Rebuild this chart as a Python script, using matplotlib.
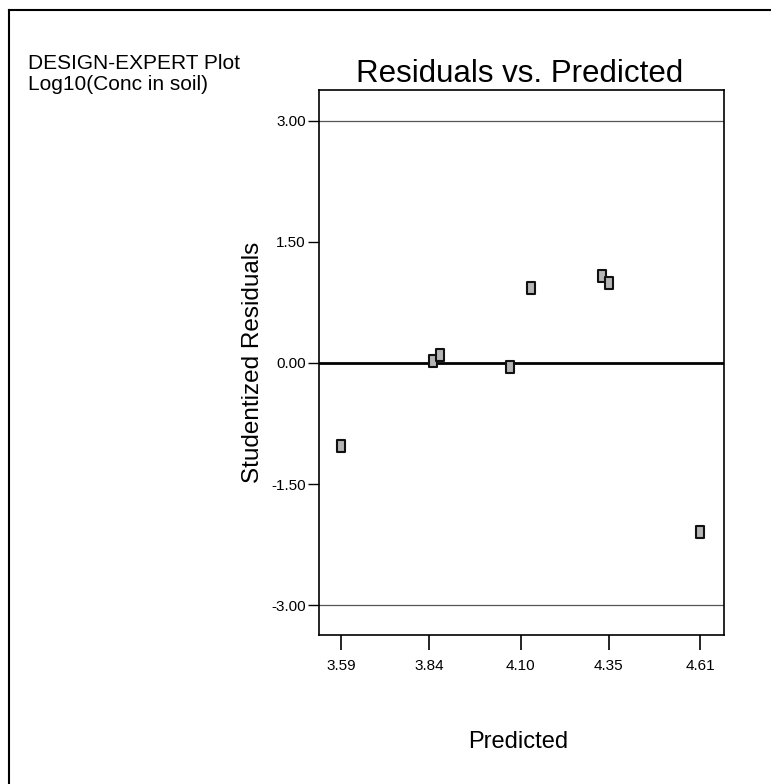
import matplotlib
matplotlib.use("Agg")
import matplotlib.pyplot as plt
from matplotlib.path import Path
from matplotlib.lines import Line2D

plt.rcParams['font.family'] = ['Liberation Sans', 'DejaVu Sans']

# data
predicted = [3.59, 3.85, 3.87, 4.07, 4.13, 4.33, 4.35, 4.61]
residuals = [-1.03, 0.02, 0.10, -0.05, 0.93, 1.08, 0.99, -2.10]
x_ticks = [3.59, 3.84, 4.10, 4.35, 4.61]
y_ticks = [3.00, 1.50, 0.00, -1.50, -3.00]
limits = [3.00, -3.00]

fig = plt.figure(figsize=(7.71, 7.84), dpi=100)
ax = fig.add_axes([319/771, 1-635/784, 405/771, 545/784])

# small upright rectangle marker like the original plot
rect = Path([(-0.8, -1), (0.8, -1), (0.8, 1), (-0.8, 1), (-0.8, -1)],
            [Path.MOVETO, Path.LINETO, Path.LINETO, Path.LINETO, Path.CLOSEPOLY])

for lim in limits:
    ax.axhline(lim, color='#555555', lw=0.9, zorder=1)
ax.axhline(0, color='black', lw=2.0, zorder=2)

ax.plot(predicted, residuals, ls='none', marker=rect, markersize=8,
        markerfacecolor='#b5b5b5', markeredgecolor='#111111',
        markeredgewidth=1.5, zorder=3)

ax.set_xlim(3.5276, 4.677)
ax.set_ylim(-3.37, 3.38)
ax.set_xticks(x_ticks)
ax.set_xticklabels(['%.2f' % v for v in x_ticks])
ax.set_yticks(y_ticks)
ax.set_yticklabels(['%.2f' % v for v in y_ticks])
ax.tick_params(axis='x', direction='out', length=11, width=1.2, pad=6, labelsize=11)
ax.tick_params(axis='y', direction='out', length=8, width=1.0, pad=1.5, labelsize=11)
for s in ax.spines.values():
    s.set_linewidth(1.2)
    s.set_color('black')

ax.set_ylabel('Studentized Residuals', fontsize=17.5, labelpad=5)
fig.text(518/771, 1-748/784, 'Predicted', fontsize=17, ha='center', va='baseline')

fig.text(520/771, 1-82/784, 'Residuals vs. Predicted', fontsize=22.5,
         ha='center', va='baseline')
fig.text(28/771, 1-69/784, 'DESIGN-EXPERT Plot', fontsize=15, va='baseline')
fig.text(28/771, 1-90/784, 'Log10(Conc in soil)', fontsize=15, va='baseline')

# page frame (left and top edges visible)
fx = 9/771
fy = 1-10/784
fig.add_artist(Line2D([fx, fx], [0, fy], color='black', lw=1.5))
fig.add_artist(Line2D([fx, 1], [fy, fy], color='black', lw=1.5))

fig.savefig('out.png', dpi=100)
